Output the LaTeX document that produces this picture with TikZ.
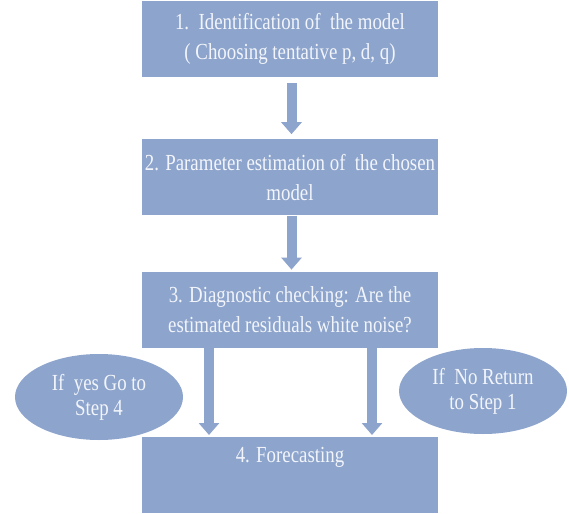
\documentclass[tikz,border=0pt]{standalone}
\usepackage{fontspec}
\setmainfont[FakeStretch=0.82]{Liberation Serif}
\usepackage{xcolor}
\usetikzlibrary{arrows.meta,calc,positioning,shapes.geometric}

\definecolor{stepblue}{RGB}{141,164,204}
\definecolor{steptext}{RGB}{242,245,251}

\begin{document}
\begin{tikzpicture}[
  x=1pt, y=-1pt,
  every node/.style={font=\fontsize{23}{30}\selectfont, text=steptext},
  stepbox/.style={
    fill=stepblue,
    draw=none,
    align=center,
    minimum width=296pt,
    minimum height=76pt,
    inner sep=0pt
  },
  choice/.style={
    ellipse,
    fill=stepblue,
    draw=none,
    align=center,
    minimum width=168pt,
    minimum height=86pt,
    inner sep=0pt,
    font=\fontsize{23}{25}\selectfont
  },
  flow/.style={draw=stepblue, line width=10pt, -{Triangle[length=12pt,width=20pt]}}
]
\useasboundingbox (0,0) rectangle (569,513);

\node[stepbox] (ident) at (290,39) {1.\ \ Identification of\ \ the model\\( Choosing tentative p, d, q)};
\node[stepbox, below=62pt of ident] (estim) {2. Parameter estimation of\ \ the chosen\\model};
\node[stepbox, below=56pt of estim] (diag) {3. Diagnostic checking: Are the\\estimated residuals white noise?};
\node[stepbox, below=89pt of diag, minimum height=0pt, text height=25pt, text depth=51pt] (fcast) {4. Forecasting};

\node[choice] (yes) at (99,397) {If\ \ yes Go to\\Step 4};
\node[choice] (no) at (483,391) {If\ \ No Return\\to Step 1};

\draw[flow, shorten <=6pt, shorten >=5pt] ([xshift=1.5pt]ident.south) -- ([xshift=1.5pt]estim.north);
\draw[flow, shorten >=2pt] ([xshift=1.5pt]estim.south) -- ([xshift=1.5pt]diag.north);
\foreach \dx in {-81,82}
  \draw[flow, shorten >=2pt] ([xshift=\dx pt]diag.south) -- ([xshift=\dx pt]fcast.north);
\end{tikzpicture}
\end{document}
